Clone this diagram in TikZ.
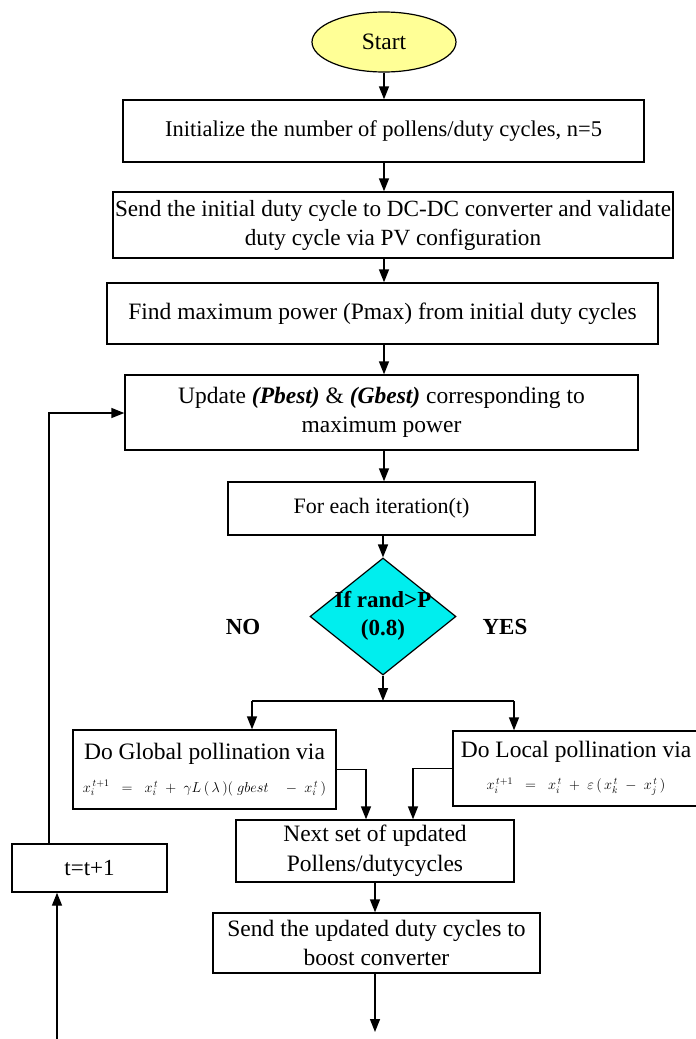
\documentclass[tikz,border=0pt]{standalone}
\usepackage{fontspec}
\setmainfont{Liberation Serif}
\usetikzlibrary{shapes.geometric,arrows.meta,calc}
\definecolor{startyel}{RGB}{255,255,150}
\definecolor{deccyan}{RGB}{0,238,238}
\begin{document}
\begin{tikzpicture}[x=1pt,y=-1pt,
  box/.style={draw,line width=1.4pt,rectangle,inner sep=1pt,align=center,font=\fontsize{23.5}{29.5}\selectfont},
  arr/.style={line width=1.4pt,-{Triangle[length=13pt,width=10pt]}},
  ln/.style={line width=1.4pt}]
\useasboundingbox (0,0) rectangle (696,1039);
\node[draw,line width=1.2pt,ellipse,fill=startyel,minimum width=144pt,minimum height=60pt,inner sep=0pt,font=\fontsize{23.5}{28}\selectfont] (start) at (384,42) {Start};
\node[box,minimum width=521pt,minimum height=62pt,font=\fontsize{22.5}{28}\selectfont] (b1) at (383.5,131) {Initialize the number of pollens/duty cycles, n=5};
\node[box,minimum width=560pt,minimum height=66pt,font=\fontsize{23.2}{29}\selectfont] (b2) at (393,225) {Send the initial duty cycle to DC-DC converter and validate\\duty cycle via PV configuration};
\node[box,minimum width=551pt,minimum height=61pt] (b3) at (382.5,313.5) {Find maximum power (Pmax) from initial duty cycles};
\node[box,minimum width=513pt,minimum height=75pt] (b4) at (381.5,412.5) {Update \textbf{\textit{(Pbest)}} \& \textbf{\textit{(Gbest)}} corresponding to\\maximum power};
\node[box,minimum width=307pt,minimum height=53pt,font=\fontsize{22}{26}\selectfont] (b5) at (381.5,508.5) {For each iteration(t)};
\node[draw,line width=1.2pt,diamond,fill=deccyan,minimum width=146pt,minimum height=117pt,inner sep=0pt,aspect=1.25] (dec) at (383,616.5) {};
\node[align=center,inner sep=0pt,font=\fontsize{23}{28}\selectfont\bfseries] (dect) at (383,616) {If rand>P\\(0.8)};
\node[font=\fontsize{23}{28}\selectfont\bfseries] (no) at (243,627) {NO};
\node[font=\fontsize{23}{28}\selectfont\bfseries] (yes) at (505,627) {YES};
\node[box,minimum width=263pt,minimum height=79pt,font=\fontsize{23.5}{26}\selectfont] (gl) at (204.5,769.5) {Do Global pollination via\\[7pt]{\fontsize{14}{16}\selectfont$x_i^{\,t+1}\;\;=\;\;x_i^{\,t}\;+\;\gamma L\,(\,\lambda\,)(\;gbest\quad -\;x_i^{\,t}\,)$}};
\node[box,minimum width=246pt,minimum height=75pt,font=\fontsize{23.5}{25}\selectfont] (lo) at (576,768.5) {Do Local pollination via\\[7pt]{\fontsize{14}{16}\selectfont$x_i^{\,t+1}\;\;=\;\;x_i^{\,t}\;+\;\varepsilon\,(\,x_k^{\,t}\;-\;x_j^{\,t}\,)$}};
\node[box,minimum width=278pt,minimum height=62pt] (nx) at (375,851) {Next set of updated\\Pollens/dutycycles};
\node[box,minimum width=327pt,minimum height=60pt] (se) at (376.5,943) {Send the updated duty cycles to\\boost converter};
\node[box,minimum width=155pt,minimum height=48pt,font=\fontsize{23}{26}\selectfont] (tt) at (89.5,868) {t=t+1};
\coordinate (mx) at (384,0);
\coordinate (split) at (383,701);
\coordinate (gx) at (252,701);
\coordinate (lx) at (514,701);
\coordinate (gr) at (366,769.5);
\coordinate (lr) at (413,768.5);
\coordinate (endp) at (375,1032);
\coordinate (tin) at (57,1039);
\coordinate (tup) at (49,413);
\draw[arr] (start.south) -- (mx |- b1.north);
\draw[arr] (mx |- b1.south) -- (mx |- b2.north);
\draw[arr] (mx |- b2.south) -- (mx |- b3.north);
\draw[arr] (mx |- b3.south) -- (mx |- b4.north);
\draw[arr] (mx |- b4.south) -- (mx |- b5.north);
\draw[arr] (dec.north |- b5.south) -- (dec.north);
\draw[arr] (dec.south) -- (split);
\draw[ln] (gx) -- (lx);
\draw[arr] (gx) -- (gx |- gl.north);
\draw[arr] (lx) -- (lx |- lo.north);
\draw[arr] (gl.east) -- (gr) -- (gr |- nx.north);
\draw[arr] (lo.west) -- (lr) -- (lr |- nx.north);
\draw[arr] (nx.south) -- (nx.south |- se.north);
\draw[arr] (nx.south |- se.south) -- (endp);
\draw[arr] (tin) -- (tin |- tt.south);
\draw[arr] (tup |- tt.north) -- (tup) -- (b4.west |- tup);
\end{tikzpicture}
\end{document}
